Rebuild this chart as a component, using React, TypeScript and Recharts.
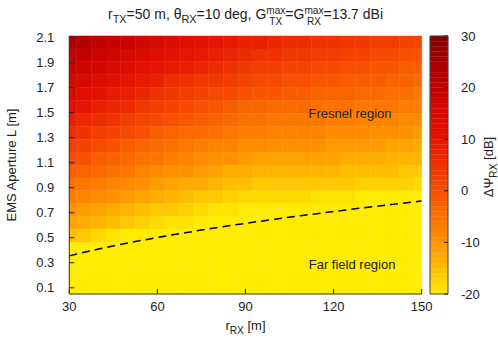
import React from "react";
import { ComposedChart, XAxis, YAxis, ReferenceArea, ReferenceDot, Line } from "recharts";

// r_RX grid (column centres) and axis ticks
const R_RX = [30, 35, 40, 45, 50, 55, 60, 65, 70, 75, 80, 85, 90, 95, 100, 105, 110, 115, 120, 125, 130, 135, 140, 145, 150];
const R_TICKS = [30, 60, 90, 120, 150];
const L_TICKS = [0.1, 0.3, 0.5, 0.7, 0.9, 1.1, 1.3, 1.5, 1.7, 1.9, 2.1];
const CB_TICKS = [-20, -10, 0, 10, 20, 30];

// delta Psi_RX [dB], one row per aperture band, top row (L ~ 2.06) first
const PSI_ROWS = [
  [24, 23, 21, 19, 18, 16, 15, 13, 12, 11, 10, 9, 8, 8, 7, 6, 6, 5, 5, 4, 4, 3, 3, 2, 2],
  [21, 20, 18, 17, 15, 14, 12, 11, 10, 9, 8, 7, 6, 5, 5, 4, 4, 3, 3, 2, 2, 1, 1, 0, 0],
  [19, 17, 16, 14, 13, 11, 10, 9, 8, 7, 6, 5, 4, 3, 3, 2, 2, 1, 1, 0, 0, -1, -1, -2, -2],
  [16, 15, 13, 12, 10, 9, 8, 6, 5, 4, 4, 3, 2, 1, 1, 0, 0, -1, -1, -2, -2, -2, -3, -3, -4],
  [14, 12, 11, 9, 8, 7, 5, 4, 3, 2, 1, 1, 0, -1, -1, -2, -2, -3, -3, -3, -4, -4, -5, -5, -6],
  [11, 10, 8, 7, 6, 4, 3, 2, 1, 0, -1, -2, -3, -3, -4, -4, -4, -5, -5, -5, -6, -6, -6, -7, -7],
  [8, 7, 6, 5, 3, 2, 1, 0, -1, -2, -3, -4, -5, -5, -6, -6, -6, -6, -7, -7, -8, -8, -8, -9, -9],
  [6, 5, 3, 2, 1, 0, -2, -3, -4, -4, -5, -6, -7, -7, -8, -8, -8, -8, -9, -9, -9, -10, -10, -10, -11],
  [3, 2, 1, 0, -2, -3, -4, -5, -6, -7, -8, -8, -9, -9, -10, -10, -10, -10, -11, -11, -11, -11, -12, -12, -13],
  [1, 0, -2, -3, -4, -5, -6, -7, -8, -9, -10, -10, -11, -12, -12, -12, -12, -12, -12, -13, -13, -13, -14, -14, -14],
  [-2, -3, -4, -5, -6, -8, -9, -10, -10, -11, -12, -13, -13, -14, -14, -14, -14, -14, -14, -15, -15, -15, -15, -16, -16],
  [-5, -6, -7, -8, -9, -10, -11, -12, -13, -13, -14, -15, -15, -16, -16, -16, -16, -16, -16, -16, -17, -17, -17, -17, -18],
  [-7, -8, -9, -10, -11, -12, -13, -14, -15, -16, -16, -17, -18, -18, -18, -18, -18, -19, -19, -19, -20, -20, -20, -20, -20],
  [-10, -11, -12, -13, -14, -15, -16, -16, -17, -18, -19, -19, -20, -20, -20, -20, -20, -20, -20, -20, -21, -21, -21, -21, -21],
  [-12, -13, -14, -15, -16, -17, -18, -19, -19, -20, -21, -21, -22, -22, -22, -22, -22, -22, -22, -22, -22, -23, -23, -23, -23],
  [-15, -16, -18, -19, -20, -20, -21, -21, -22, -22, -23, -23, -24, -24, -24, -24, -23, -24, -24, -24, -24, -24, -24, -25, -25],
  [-20, -20, -21, -21, -21, -22, -23, -23, -24, -24, -25, -26, -26, -26, -26, -26, -25, -26, -25, -26, -26, -26, -26, -26, -26],
  [-21, -21, -22, -23, -23, -24, -25, -25, -26, -27, -27, -28, -28, -28, -28, -28, -27, -27, -27, -27, -28, -28, -28, -28, -28],
  [-23, -23, -24, -25, -26, -26, -27, -27, -28, -29, -29, -30, -30, -30, -30, -30, -29, -29, -29, -29, -29, -30, -30, -30, -30],
  [-25, -26, -27, -27, -28, -28, -29, -30, -31, -31, -32, -32, -33, -33, -32, -32, -31, -31, -31, -31, -31, -31, -31, -31, -31],
];

// far field boundary (dashed line)
const BOUNDARY_R = [30, 40, 50, 60, 70, 80, 90, 100, 110, 120, 130, 140, 150];
const BOUNDARY_L = [0.355, 0.41, 0.458, 0.502, 0.542, 0.58, 0.615, 0.648, 0.68, 0.71, 0.739, 0.767, 0.794];

const L_MIN = 0.05;
const L_MAX = 2.114;
const R_STEP = 5;
const FONT = "'Liberation Sans', Arial, sans-serif";

const PAL = [
  [-20, 255, 236, 0],
  [-10, 255, 145, 0],
  [0, 247, 80, 0],
  [10, 230, 20, 0],
  [20, 195, 0, 0],
  [30, 135, 0, 0],
];

function psiColor(v: number) {
  const t = Math.max(-20, Math.min(30, v));
  for (let i = 0; i < PAL.length - 1; i++) {
    const a = PAL[i];
    const b = PAL[i + 1];
    if (t <= b[0]) {
      const f = (t - a[0]) / (b[0] - a[0]);
      const c = [1, 2, 3].map((k) => Math.round(a[k] + (b[k] - a[k]) * f));
      return `rgb(${c[0]},${c[1]},${c[2]})`;
    }
  }
  return "rgb(135,0,0)";
}

const Sub = ({ children }: { children: React.ReactNode }) => (
  <span style={{ fontSize: "0.78em", verticalAlign: -4 }}>{children}</span>
);

const Stack = ({ sup, sub }: { sup: string; sub: string }) => (
  <span style={{ display: "inline-flex", flexDirection: "column", fontSize: "0.72em", lineHeight: "11px", verticalAlign: 5 }}>
    <span>{sup}</span>
    <span>{sub}</span>
  </span>
);

export default function App() {
  const rowH = (L_MAX - L_MIN) / PSI_ROWS.length;
  const boundary = BOUNDARY_R.map((r, i) => ({ r, L: BOUNDARY_L[i] }));
  const tickStyle = { fill: "#222", fontSize: 13, fontFamily: FONT };
  const bands = [];
  for (let v = -20; v < 30; v++) bands.push(v);

  return (
    <div style={{ position: "absolute", left: 0, top: 0, width: 498, height: 342, background: "#fff", fontFamily: FONT, color: "#222" }}>
      <ComposedChart width={498} height={342} data={boundary} margin={{ top: 36, right: 76.3, bottom: 0, left: 0 }}>
        <XAxis dataKey="r" type="number" domain={[30, 150]} ticks={R_TICKS} allowDataOverflow height={48}
          tickSize={-5} tickMargin={13} tick={tickStyle} axisLine={{ stroke: "#333" }} tickLine={{ stroke: "#222" }} />
        <XAxis xAxisId="top" orientation="top" dataKey="r" type="number" domain={[30, 150]} ticks={R_TICKS} allowDataOverflow height={0}
          tickSize={-5} tickFormatter={() => ""} axisLine={{ stroke: "#333" }} tickLine={{ stroke: "#222" }} />
        <YAxis type="number" domain={[L_MIN, L_MAX]} ticks={L_TICKS} allowDataOverflow width={69.3}
          tickSize={-5} tickMargin={20} tick={tickStyle} axisLine={{ stroke: "#333" }} tickLine={{ stroke: "#222" }} />
        <YAxis yAxisId="right" orientation="right" type="number" domain={[L_MIN, L_MAX]} ticks={L_TICKS} allowDataOverflow width={0}
          tickSize={-5} tickFormatter={() => ""} axisLine={{ stroke: "#333" }} tickLine={{ stroke: "#222" }} />
        {PSI_ROWS.map((row, ri) => {
          const y1 = L_MAX - (ri + 1) * rowH;
          return row.map((v, ci) => {
            const c = psiColor(v);
            return (
              <ReferenceArea key={`${ri}-${ci}`} x1={Math.max(30, R_RX[ci] - R_STEP / 2)} x2={Math.min(150, R_RX[ci] + R_STEP / 2)}
                y1={y1} y2={y1 + rowH} fill={c} fillOpacity={1} stroke={c} strokeWidth={0.5} />
            );
          });
        })}
        <Line dataKey="L" type="monotone" stroke="#000" strokeWidth={1.5} strokeDasharray="8 5" dot={false} isAnimationActive={false} />
        <ReferenceDot x={125.6} y={1.498} r={0} stroke="none" fill="none"
          label={{ value: "Fresnel region", position: "center", fill: "#222", fontSize: 13, fontFamily: FONT }} />
        <ReferenceDot x={126.3} y={0.29} r={0} stroke="none" fill="none"
          label={{ value: "Far field region", position: "center", fill: "#222", fontSize: 13, fontFamily: FONT }} />
      </ComposedChart>

      {/* colour box */}
      <div style={{ position: "absolute", left: 0, top: 0 }}>
        <ComposedChart width={498} height={342} data={[{ x: 0 }, { x: 1 }]} margin={{ top: 36, right: 0, bottom: 0, left: 430 }}>
          <XAxis dataKey="x" type="number" domain={[0, 1]} height={48} tick={false} tickLine={false} axisLine={false} />
          <YAxis orientation="right" type="number" domain={[-20, 30]} ticks={CB_TICKS} width={50} allowDataOverflow
            tickSize={-4} tickMargin={17} tick={{ ...tickStyle, textAnchor: "start" }} axisLine={false} tickLine={{ stroke: "#222" }} />
          {bands.map((v) => (
            <ReferenceArea key={v} x1={0} x2={1} y1={v} y2={v + 1} fill={psiColor(v + 0.5)} fillOpacity={1} stroke={psiColor(v + 0.5)} strokeWidth={0.3} />
          ))}
          <ReferenceArea x1={0} x2={1} y1={-20} y2={30} fill="none" stroke="#444" strokeWidth={1} />
        </ComposedChart>
      </div>

      <div style={{ position: "absolute", left: 0, top: 5, width: 491, textAlign: "center", fontSize: 14, lineHeight: "16px", whiteSpace: "nowrap" }}>
        r<Sub>TX</Sub>=50 m, θ<Sub>RX</Sub>=10 deg, G<Stack sup="max" sub="TX" />=G<Stack sup="max" sub="RX" />=13.7 dBi
      </div>
      <div style={{ position: "absolute", left: 0, top: 318, width: 491, textAlign: "center", fontSize: 13, lineHeight: "16px" }}>
        r<Sub>RX</Sub> [m]
      </div>
      <div style={{ position: "absolute", left: 12 - 100, top: 165 - 8, width: 200, height: 16, textAlign: "center", fontSize: 13, lineHeight: "16px", transform: "rotate(-90deg)" }}>
        EMS Aperture L [m]
      </div>
      <div style={{ position: "absolute", left: 489 - 100, top: 167 - 8, width: 200, height: 16, textAlign: "center", fontSize: 13, lineHeight: "16px", transform: "rotate(-90deg)", whiteSpace: "nowrap" }}>
        ΔΨ<Sub>RX</Sub> [dB]
      </div>
    </div>
  );
}
